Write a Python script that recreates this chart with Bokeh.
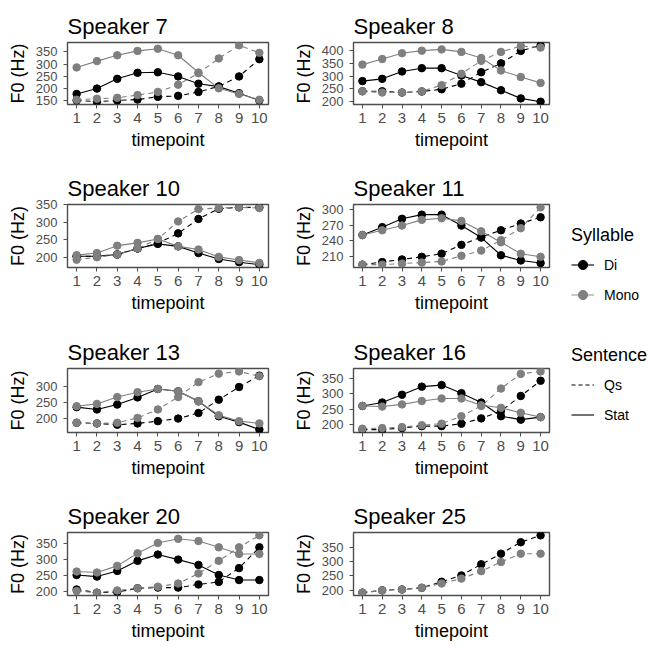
import numpy as np
from bokeh.plotting import figure
from bokeh.models import FixedTicker, Legend, LegendItem, Range1d
from bokeh.layouts import row, column
from bokeh.embed import file_html
from bokeh.resources import INLINE

timepoints = [1, 2, 3, 4, 5, 6, 7, 8, 9, 10]

# ---- data (F0 in Hz) ----
s7_di_stat = [177, 199, 239, 264, 266, 249, 219, 207, 180, 150]
s7_mono_stat = [286, 312, 336, 354, 363, 336, 265, 200, 177, 153]
s7_di_qs = [150, 145, 150, 154, 165, 169, 185, 208, 249, 320]
s7_mono_qs = [153, 157, 161, 172, 185, 215, 262, 323, 377, 346]
s7_ticks = [150, 200, 250, 300, 350]

s8_di_stat = [281, 290, 319, 332, 332, 303, 277, 245, 213, 200]
s8_mono_stat = [346, 368, 391, 401, 406, 396, 372, 323, 297, 274]
s8_di_qs = [241, 241, 236, 240, 249, 271, 316, 351, 400, 422]
s8_mono_qs = [241, 236, 236, 241, 265, 310, 361, 396, 419, 413]
s8_ticks = [200, 250, 300, 350, 400]

s10_di_stat = [203, 203, 208, 225, 238, 231, 212, 195, 186, 179]
s10_mono_stat = [206, 212, 233, 241, 252, 231, 222, 201, 192, 184]
s10_di_qs = [203, 203, 208, 225, 240, 268, 309, 338, 342, 342]
s10_mono_qs = [193, 200, 208, 225, 252, 302, 337, 340, 342, 340]
s10_ticks = [200, 250, 300, 350]

s11_di_stat = [251, 266, 282, 290, 290, 269, 246, 212, 202, 197]
s11_mono_stat = [251, 260, 269, 280, 283, 278, 258, 237, 215, 209]
s11_di_qs = [194, 199, 204, 209, 215, 232, 247, 260, 273, 285]
s11_mono_qs = [194, 194, 196, 198, 200, 211, 221, 241, 264, 304]
s11_ticks = [210, 240, 270, 300]

s13_di_stat = [236, 229, 244, 266, 292, 285, 254, 208, 190, 167]
s13_mono_stat = [239, 246, 267, 282, 292, 285, 254, 211, 193, 186]
s13_di_qs = [188, 186, 182, 186, 193, 201, 218, 259, 298, 333]
s13_mono_qs = [188, 186, 188, 203, 229, 267, 313, 339, 346, 331]
s13_ticks = [200, 250, 300]

s16_di_stat = [261, 272, 297, 323, 328, 302, 272, 228, 217, 225]
s16_mono_stat = [261, 259, 266, 277, 285, 285, 263, 255, 239, 225]
s16_di_qs = [185, 185, 190, 196, 196, 204, 221, 245, 293, 342]
s16_mono_qs = [188, 190, 193, 199, 204, 228, 261, 317, 364, 372]
s16_ticks = [200, 250, 300, 350]

s20_di_stat = [251, 246, 264, 296, 316, 300, 283, 251, 235, 235]
s20_mono_stat = [262, 259, 280, 320, 353, 366, 359, 339, 318, 318]
s20_di_qs = [205, 195, 197, 209, 211, 211, 221, 229, 273, 339]
s20_mono_qs = [200, 195, 202, 209, 214, 224, 256, 296, 339, 377]
s20_ticks = [200, 250, 300, 350]

s25_di_qs = [191, 199, 202, 208, 229, 251, 290, 327, 367, 391]
s25_mono_qs = [191, 199, 202, 208, 223, 240, 266, 298, 327, 327]
s25_ticks = [200, 250, 300, 350]

panels = [
    ("Speaker 7", s7_di_stat, s7_mono_stat, s7_di_qs, s7_mono_qs, s7_ticks),
    ("Speaker 8", s8_di_stat, s8_mono_stat, s8_di_qs, s8_mono_qs, s8_ticks),
    ("Speaker 10", s10_di_stat, s10_mono_stat, s10_di_qs, s10_mono_qs, s10_ticks),
    ("Speaker 11", s11_di_stat, s11_mono_stat, s11_di_qs, s11_mono_qs, s11_ticks),
    ("Speaker 13", s13_di_stat, s13_mono_stat, s13_di_qs, s13_mono_qs, s13_ticks),
    ("Speaker 16", s16_di_stat, s16_mono_stat, s16_di_qs, s16_mono_qs, s16_ticks),
    ("Speaker 20", s20_di_stat, s20_mono_stat, s20_di_qs, s20_mono_qs, s20_ticks),
    ("Speaker 25", None, None, s25_di_qs, s25_mono_qs, s25_ticks),
]

FONT = "Liberation Sans"
DI_COL = "#000000"
MONO_COL = "#7f7f7f"
DASH = "5 4"

row_heights = [170, 164, 164, 145]
row_tops = [42, 34, 34, 34]
frame_heights = [62, 63, 64, 65]


def make_panel(idx, title, di_stat, mono_stat, di_qs, mono_qs, ticks):
    r = idx // 2
    left = (idx % 2 == 0)
    w = 290 if left else 264
    h = row_heights[r]
    p = figure(width=w, height=h, output_backend="svg", toolbar_location=None,
               tools="")
    p.min_border_left = 67 if left else 59
    p.min_border_right = 22 if left else 5
    p.min_border_top = row_tops[r]
    p.min_border_bottom = h - row_tops[r] - frame_heights[r]

    p.title.text = title
    p.title.text_font = FONT
    p.title.text_font_size = "22px"
    p.title.text_font_style = "normal"
    p.title.text_color = "#000000"
    p.title.align = "left"
    p.title.offset = 0
    p.title.standoff = 7

    p.xgrid.grid_line_color = None
    p.ygrid.grid_line_color = None
    p.outline_line_color = "#4d4d4d"
    p.outline_line_width = 1.4
    p.background_fill_color = "white"
    p.border_fill_color = "white"

    p.xaxis.ticker = FixedTicker(ticks=timepoints)
    p.yaxis.ticker = FixedTicker(ticks=ticks)
    for ax in (p.xaxis[0], p.yaxis[0]):
        ax.axis_line_color = None
        ax.major_tick_line_color = "#4d4d4d"
        ax.major_tick_in = 0
        ax.major_tick_out = 4
        ax.minor_tick_line_color = None
        ax.major_label_text_font = FONT
        ax.major_label_text_color = "#4d4d4d"
        ax.axis_label_text_font = FONT
        ax.axis_label_text_font_style = "normal"
        ax.axis_label_text_color = "#000000"
        ax.axis_label_text_font_size = "18px"
    p.xaxis.axis_label = "timepoint"
    p.xaxis.major_label_text_font_size = "15px"
    p.xaxis.major_label_standoff = 4
    p.xaxis.axis_label_standoff = 4
    p.yaxis.axis_label = "F0 (Hz)"
    p.yaxis.major_label_text_font_size = "13px"
    p.yaxis.major_label_standoff = 6
    p.yaxis.axis_label_standoff = 5

    series = [(di_qs, DI_COL, DASH), (di_stat, DI_COL, "solid"),
              (mono_qs, MONO_COL, DASH), (mono_stat, MONO_COL, "solid")]
    for ys, col, dash in series:
        if ys is None:
            continue
        p.line(timepoints, ys, line_color=col, line_width=1.1, line_dash=dash)
    for ys, col, dash in series:
        if ys is None:
            continue
        p.scatter(timepoints, ys, size=7.5, fill_color=col, line_color=col)
    return p


figs = [make_panel(i, *pp) for i, pp in enumerate(panels)]
grid_rows = [row(figs[2 * k], figs[2 * k + 1]) for k in range(4)]
grid = column(*grid_rows)

# ---- legend panel ----
lf = figure(width=94, height=sum(row_heights), output_backend="svg",
            toolbar_location=None, tools="", x_range=Range1d(0, 1),
            y_range=Range1d(0, 1))
lf.min_border = 0
lf.min_border_left = 0
lf.min_border_right = 0
lf.min_border_top = 0
lf.min_border_bottom = 0
lf.axis.visible = False
lf.grid.visible = False
lf.outline_line_color = None

nan = [np.nan]
di_l = lf.line(nan, nan, line_color=DI_COL, line_width=1.1)
di_p = lf.scatter(nan, nan, size=5, fill_color=DI_COL, line_color=DI_COL)
mo_l = lf.line(nan, nan, line_color="#999999", line_width=1.1)
mo_p = lf.scatter(nan, nan, size=5, fill_color=MONO_COL, line_color=MONO_COL)
qs_l = lf.line(nan, nan, line_color=DI_COL, line_width=1.1, line_dash="4 3")
st_l = lf.line(nan, nan, line_color=DI_COL, line_width=1.1)


def style_legend(lg):
    lg.title_text_font = FONT
    lg.title_text_font_size = "18px"
    lg.title_text_font_style = "normal"
    lg.title_text_color = "#000000"
    lg.title_standoff = 5
    lg.label_text_font = FONT
    lg.label_text_font_size = "14px"
    lg.label_text_color = "#000000"
    lg.glyph_width = 23
    lg.glyph_height = 27
    lg.label_height = 27
    lg.label_standoff = 10
    lg.spacing = 3
    lg.padding = 0
    lg.margin = 0
    lg.border_line_color = None
    lg.background_fill_alpha = 0


leg1 = Legend(title="Syllable", items=[LegendItem(label="Di", renderers=[di_l, di_p]),
                                      LegendItem(label="Mono", renderers=[mo_l, mo_p])],
              location=(17, 335))
leg2 = Legend(title="Sentence", items=[LegendItem(label="Qs", renderers=[qs_l]),
                                      LegendItem(label="Stat", renderers=[st_l])],
              location=(17, 215))
style_legend(leg1)
style_legend(leg2)
lf.add_layout(leg1, "center")
lf.add_layout(leg2, "center")

page = row(grid, lf)
open("out.html", "w").write(file_html(page, INLINE))
